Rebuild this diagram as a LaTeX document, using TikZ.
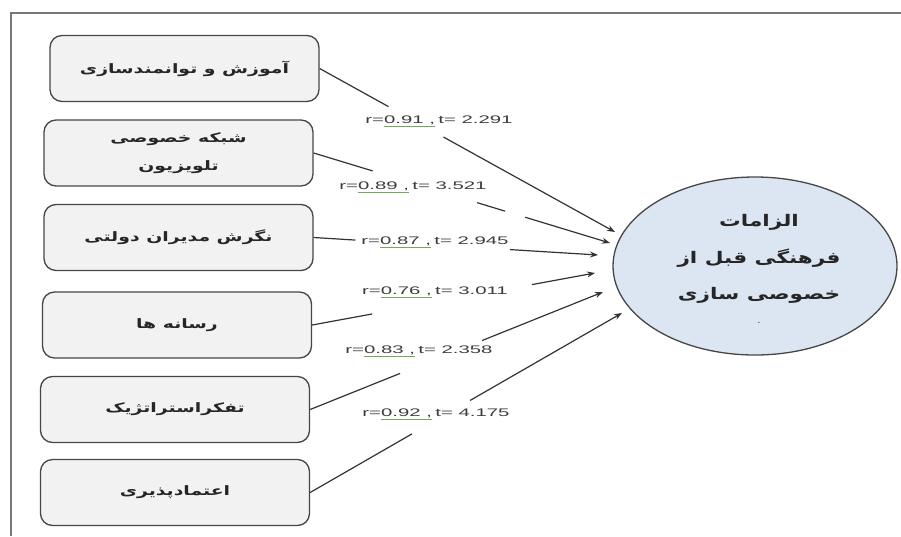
\documentclass[tikz,border=0pt]{standalone}
\usepackage{graphicx}
\usepackage{fontspec}
\setmainfont{Liberation Sans}
\newfontfamily\arabicfont[Script=Arabic]{DejaVu Sans}
\TeXXeTstate=1
\usetikzlibrary{calc,arrows.meta,shapes.geometric}
\definecolor{boxfill}{RGB}{242,242,242}
\definecolor{boxdraw}{RGB}{70,70,70}
\definecolor{ellfill}{RGB}{220,230,242}
\definecolor{labc}{RGB}{60,60,60}
\definecolor{ulc}{RGB}{110,170,90}
\definecolor{framec}{RGB}{120,120,120}
\newcommand{\artxt}[1]{\scalebox{1.45}[1]{\fontsize{13}{26}\selectfont\arabicfont\bfseries\beginR #1\endR}}
\newcommand{\ellt}[1]{\scalebox{1.35}[1]{\fontsize{16}{19}\selectfont\arabicfont\bfseries\beginR #1\endR}}
\newcommand{\labtxt}[2]{\scalebox{1.85}[1]{\fontsize{11}{13}\selectfont\color{labc}r={\color{ulc}\underline{\color{labc}#1\ ,}}\,t= #2}}
\begin{document}
\begin{tikzpicture}[x=1pt,y=-1pt,
  inbox/.style={draw=boxdraw,line width=1.3pt,fill=boxfill,rounded corners=12pt,
    minimum width=269pt,minimum height=66pt,inner sep=0pt,align=center,
    font=\fontsize{13}{28}\selectfont,text=black!85},
  conn/.style={draw=black!80,line width=1.2pt},
  arr/.style={conn,-{Stealth[length=8pt,width=6pt]}},
  lab/.style={inner sep=0pt,anchor=center}]
\useasboundingbox (0,0) rectangle (901,536);
% frame
\coordinate (f1) at (11,536);
\coordinate (f2) at (11,13);
\coordinate (f3) at (901,13);
\draw[framec,line width=1.8pt] (f1) -- (f2) -- (f3);
% boxes
\node[inbox] (b1) at (184.5,68.5) {\artxt{آموزش و توانمندسازی}};
\node[inbox] (b2) at (178.5,153) {\artxt{شبکه خصوصی}\\\artxt{تلویزیون}};
\node[inbox] (b3) at (178.5,237.5) {\artxt{نگرش مدیران دولتی}};
\node[inbox] (b4) at (177,325) {\artxt{رسانه ها}};
\node[inbox] (b5) at (175,409.5) {\artxt{تفکراستراتژیک}};
\node[inbox] (b6) at (175,492.5) {\artxt{اعتمادپذیری}};
% ellipse
\node[ellipse,draw=boxdraw,line width=1.3pt,fill=ellfill,minimum width=284pt,minimum height=178pt,
  inner sep=0pt] (E) at (755,266) {};
\node[align=center,inner sep=0pt,text=black!85,anchor=north] (Et) at (759,214)
  {\ellt{الزامات}\\[18pt]\ellt{فرهنگی قبل از}\\[19pt]\ellt{خصوصی سازی}\\[12pt]{\fontsize{10}{10}\selectfont .}};
% arrow tips
\coordinate (t1) at (615,232);
\coordinate (t2) at (610,243);
\coordinate (t3) at (598,255);
\coordinate (t4) at (595,273);
\coordinate (t5) at (603,292);
\coordinate (t6) at (622,313);
% arrows
\draw[conn] (b1.east) -- ($(b1.east)!0.233!(t1)$);
\draw[arr] ($(b1.east)!0.419!(t1)$) -- (t1);
\draw[conn] (b2.east) -- ($(b2.east)!0.199!(t2)$);
\draw[conn] ($(b2.east)!0.552!(t2)$) -- ($(b2.east)!0.646!(t2)$);
\draw[arr] ($(b2.east)!0.714!(t2)$) -- (t2);
\draw[conn] (b3.east) -- ($(b3.east)!0.147!(t3)$);
\draw[arr] ($(b3.east)!0.691!(t3)$) -- (t3);
\draw[conn] (b4.east) -- ($(b4.east)!0.212!(t4)$);
\draw[arr] ($(b4.east)!0.777!(t4)$) -- (t4);
\draw[conn] (b5.east) -- ($(b5.east)!0.307!(t5)$);
\draw[arr] ($(b5.east)!0.587!(t5)$) -- (t5);
\draw[conn] (b6.east) -- ($(b6.east)!0.327!(t6)$);
\draw[arr] ($(b6.east)!0.513!(t6)$) -- (t6);
% labels
\node[lab] (l1) at (439,121) {\labtxt{0.91}{2.291}};
\node[lab] (l2) at (413,187) {\labtxt{0.89}{3.521}};
\node[lab] (l3) at (435,242) {\labtxt{0.87}{2.945}};
\node[lab] (l4) at (435,292) {\labtxt{0.76}{3.011}};
\node[lab] (l5) at (419,351) {\labtxt{0.83}{2.358}};
\node[lab] (l6) at (436,414) {\labtxt{0.92}{4.175}};
\end{tikzpicture}
\end{document}
